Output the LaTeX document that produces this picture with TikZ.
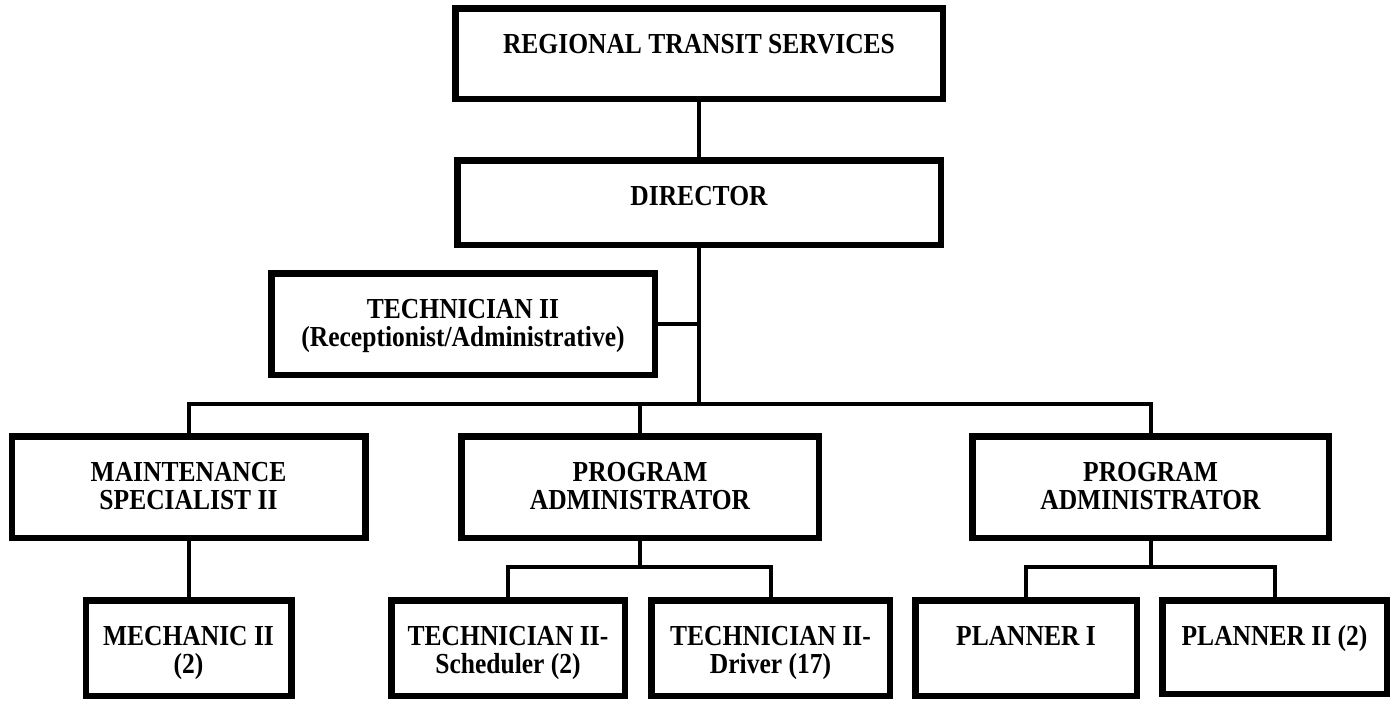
\documentclass[tikz,border=0pt]{standalone}
\usepackage{fontspec}
\setmainfont{Liberation Serif}[FakeStretch=0.88]
\begin{document}
\begin{tikzpicture}[x=1pt,y=-1pt,
  box/.style={draw, line width=6.5pt, inner sep=0pt, fill=white},
  lbl/.style={anchor=north, yshift=-29pt, align=center, inner sep=0pt,
    font=\fontsize{29}{28.5}\selectfont\bfseries,
    execute at begin node={\rule{0pt}{22pt}}},
  lblone/.style={lbl, yshift=3pt},
  conn/.style={draw, line width=4pt}]
\useasboundingbox (0,0) rectangle (1397,702);
\coordinate (bus) at (699,404);
\coordinate (sba) at (640,567);
\coordinate (sbb) at (1150.5,567);
% boxes
\node[box, minimum width=487.5pt, minimum height=90.5pt] (top) at (699,53.5) {};
\node[box, minimum width=483.5pt, minimum height=84.5pt] (dir) at (699,202.5) {};
\node[box, minimum width=383.5pt, minimum height=101.5pt] (tech) at (463,324) {};
\node[box, minimum width=353.5pt, minimum height=101.5pt] (maint) at (188.5,487) {};
\node[box, minimum width=357.5pt, minimum height=101.5pt] (pa1) at (640,487) {};
\node[box, minimum width=356.5pt, minimum height=101.5pt] (pa2) at (1150.5,487) {};
\node[box, minimum width=205.5pt, minimum height=95.5pt] (mech) at (188.5,648) {};
\node[box, minimum width=233.5pt, minimum height=95.5pt] (sched) at (508,648) {};
\node[box, minimum width=238.5pt, minimum height=95.5pt] (drv) at (770.5,648) {};
\node[box, minimum width=221.5pt, minimum height=95.5pt] (pl1) at (1026,648) {};
\node[box, minimum width=224.5pt, minimum height=93.5pt] (pl2) at (1274.5,647) {};
% connectors
\draw[conn] (top.south) -- (dir.north);
\draw[conn] (dir.south) -- (bus);
\draw[conn] (tech.east) -- ([xshift=2pt]tech.east -| bus);
\draw[conn] (maint.north) |- (bus) -| (pa2.north);
\draw[conn] (pa1.north) -- (pa1.north |- bus);
\draw[conn] (maint.south) -- (mech.north);
\draw[conn] (pa1.south) -- (sba);
\draw[conn] (sched.north) |- (sba) -| (drv.north);
\draw[conn] (pa2.south) -- (sbb);
\draw[conn] (pl1.north) |- (sbb) -| (pl2.north);
% labels
\node[lblone] (topT) at (top.north) {REGIONAL TRANSIT SERVICES};
\node[lblone] (dirT) at (dir.north) {DIRECTOR};
\node[lbl] (techT) at (tech.north) {TECHNICIAN II\\(Receptionist/Administrative)};
\node[lbl] (maintT) at (maint.north) {MAINTENANCE\\SPECIALIST II};
\node[lbl] (pa1T) at (pa1.north) {PROGRAM\\ADMINISTRATOR};
\node[lbl] (pa2T) at (pa2.north) {PROGRAM\\ADMINISTRATOR};
\node[lbl] (mechT) at (mech.north) {MECHANIC II\\(2)};
\node[lbl] (schedT) at (sched.north) {TECHNICIAN II-\\Scheduler (2)};
\node[lbl] (drvT) at (drv.north) {TECHNICIAN II-\\Driver (17)};
\node[lblone] (pl1T) at (pl1.north) {PLANNER I};
\node[lblone] (pl2T) at (pl2.north) {PLANNER II (2)};
\end{tikzpicture}
\end{document}
